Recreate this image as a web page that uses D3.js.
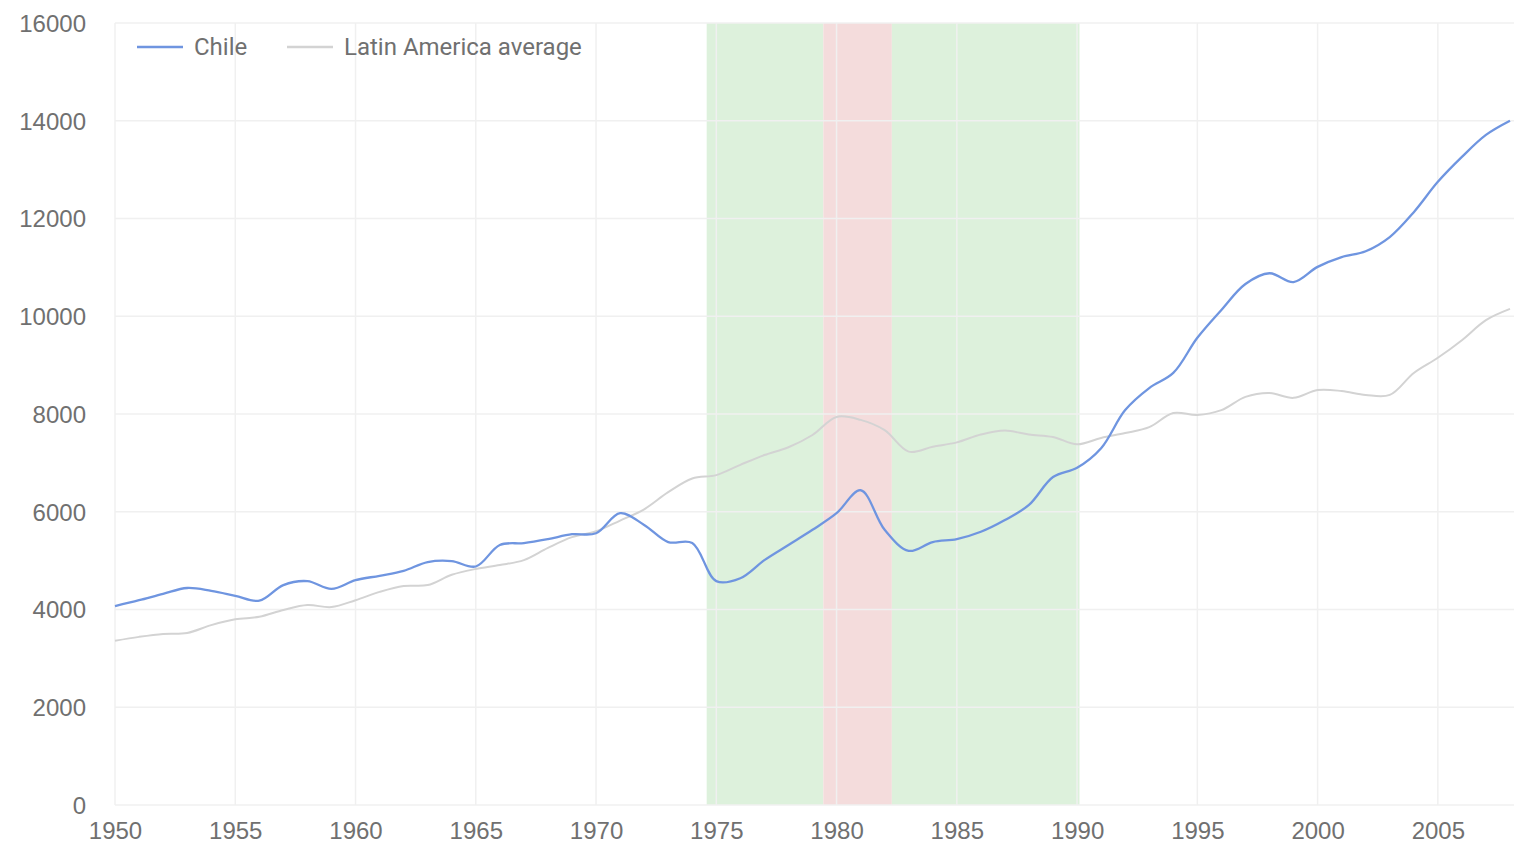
<!DOCTYPE html>
<html>
<head>
<meta charset="utf-8">
<script src="https://cdn.jsdelivr.net/npm/d3@7"></script>
<style>
  html, body { margin: 0; padding: 0; background: #fff; }
  svg { display: block; font-family: Roboto, "Liberation Sans", sans-serif; }
  .axis text { fill: #707070; font-size: 24px; }
  .legend text { fill: #707070; font-size: 24px; }
</style>
</head>
<body>
<div id="chart"></div>
<script>
var years = d3.range(1950, 2009);

var chile = [
  4070, 4190, 4320, 4440, 4380, 4280, 4180, 4500, 4580, 4420,
  4600, 4690, 4790, 4970, 4990, 4880, 5320, 5360, 5440, 5540,
  5560, 5970, 5730, 5380, 5360, 4580, 4640, 5010, 5320, 5630,
  5970, 6440, 5630, 5200, 5380, 5440, 5590, 5830, 6140, 6710,
  6900, 7300, 8080, 8530, 8840, 9560, 10130, 10660, 10880, 10700,
  11010, 11210, 11330, 11620, 12130, 12750, 13260, 13710, 14000
];

var latam = [
  3360, 3440, 3500, 3520, 3680, 3800, 3850, 3990, 4090, 4050,
  4190, 4360, 4480, 4500, 4710, 4830, 4910, 5010, 5260, 5480,
  5600, 5820, 6050, 6400, 6680, 6750, 6960, 7160, 7320, 7570,
  7940, 7880, 7670, 7230, 7330, 7420, 7580, 7660, 7580, 7530,
  7380, 7510, 7610, 7730, 8020, 7980, 8080, 8350, 8430, 8330,
  8490, 8470, 8390, 8390, 8840, 9150, 9510, 9920, 10150
];

// shaded periods
var bandStart = [1974.6, 1979.45, 1982.3];
var bandEnd = [1979.45, 1982.3, 1990.1];
var bandKind = ['green', 'red', 'green'];

var yTicks = [0, 2000, 4000, 6000, 8000, 10000, 12000, 14000, 16000];
var xTicks = [1950, 1955, 1960, 1965, 1970, 1975, 1980, 1985, 1990, 1995, 2000, 2005];

var seriesNames = ['Chile', 'Latin America average'];
var seriesColors = ['#6f95e0', '#d3d3d3'];

var W = 1514, H = 843;
var svg = d3.select('#chart').append('svg')
  .attr('width', W)
  .attr('height', H);

// Dimensions
var margin = {left: 115, right: 1510, top: 23, bottom: 805};

// Scales
var x = d3.scaleLinear().domain([1950, 2008]).range([margin.left, margin.right]);
var y = d3.scaleLinear().domain([0, 16000]).range([margin.bottom, margin.top]);

// Bands
var bandColor = { green: '#ddf1dc', red: '#f4dcdc' };
svg.append('g').selectAll('rect')
  .data(bandStart)
  .enter().append('rect')
    .attr('x', function(d) { return x(d); })
    .attr('y', y(16000))
    .attr('width', function(d, i) { return x(bandEnd[i]) - x(d); })
    .attr('height', y(0) - y(16000))
    .attr('fill', function(d, i) { return bandColor[bandKind[i]]; });

// Grid
var grid = svg.append('g').attr('class', 'grid');
grid.selectAll('.hgrid')
  .data(yTicks)
  .enter().append('line')
    .attr('x1', margin.left).attr('x2', W)
    .attr('y1', function(d) { return y(d); })
    .attr('y2', function(d) { return y(d); })
    .attr('stroke', '#f0f0f0')
    .attr('stroke-width', 1.5);
grid.selectAll('.vgrid')
  .data(xTicks)
  .enter().append('line')
    .attr('x1', function(d) { return x(d); })
    .attr('x2', function(d) { return x(d); })
    .attr('y1', y(16000)).attr('y2', y(0))
    .attr('stroke', '#f0f0f0')
    .attr('stroke-width', 1.5);

// Lines
var line = d3.line()
  .x(function(d, i) { return x(years[i]); })
  .y(function(d) { return y(d); })
  .curve(d3.curveCatmullRom.alpha(0.5));

svg.append('path')
  .datum(latam)
  .attr('fill', 'none')
  .attr('stroke', seriesColors[1])
  .attr('stroke-width', 2)
  .attr('d', line);

svg.append('path')
  .datum(chile)
  .attr('fill', 'none')
  .attr('stroke', seriesColors[0])
  .attr('stroke-width', 2.3)
  .attr('d', line);

// Y Axis
svg.append('g')
  .attr('class', 'axis axis-y')
  .attr('transform', 'translate(' + margin.left + ',0)')
  .call(d3.axisLeft(y).tickValues(yTicks).tickSize(0).tickPadding(29).tickFormat(d3.format('d')))
  .call(function(g) { g.select('.domain').remove(); })
  .selectAll('text')
    .attr('dy', '0.35em');

// X Axis
svg.append('g')
  .attr('class', 'axis axis-x')
  .attr('transform', 'translate(0,' + margin.bottom + ')')
  .call(d3.axisBottom(x).tickValues(xTicks).tickSize(0).tickPadding(17).tickFormat(d3.format('d')))
  .call(function(g) { g.select('.domain').remove(); });

// Legend
var legend = svg.append('g').attr('class', 'legend');
var legendX = [137, 287];
legend.selectAll('line')
  .data(seriesNames)
  .enter().append('line')
    .attr('x1', function(d, i) { return legendX[i]; })
    .attr('x2', function(d, i) { return legendX[i] + 46; })
    .attr('y1', 47).attr('y2', 47)
    .attr('stroke', function(d, i) { return seriesColors[i]; })
    .attr('stroke-width', 2.5);
legend.selectAll('text')
  .data(seriesNames)
  .enter().append('text')
    .attr('x', function(d, i) { return legendX[i] + 57; })
    .attr('y', 47)
    .attr('dy', '0.35em')
    .text(function(d) { return d; });
</script>
</body>
</html>
